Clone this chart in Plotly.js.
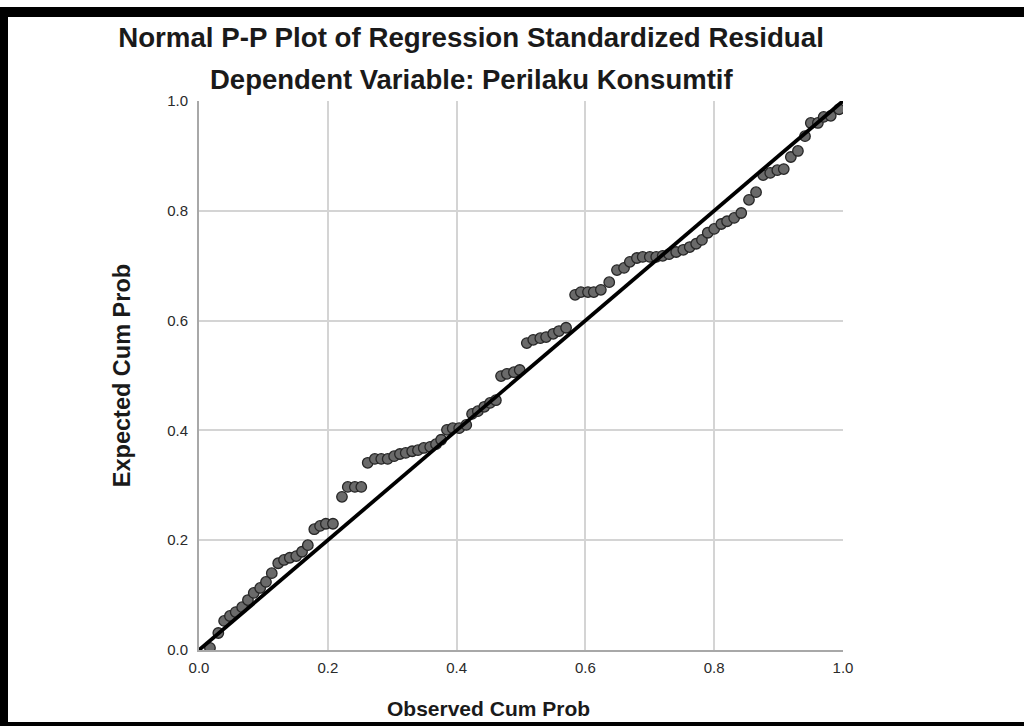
<!DOCTYPE html>
<html>
<head>
<meta charset="utf-8">
<script src="https://cdn.plot.ly/plotly-3.0.1.min.js"></script>
<style>
  html, body { margin: 0; padding: 0; background: #fff; }
  #wrap { position: relative; width: 1024px; height: 726px; overflow: hidden; }
  #chart { position: absolute; left: 0; top: 0; width: 1024px; height: 726px; }
  .bar { position: absolute; background: #000; }
</style>
</head>
<body>
<div id="wrap">
  <div id="chart"></div>
  <div class="bar" style="left:0;top:7px;width:1024px;height:10px;"></div>
  <div class="bar" style="left:0;top:7px;width:8px;height:719px;"></div>
  <div class="bar" style="left:0;top:722px;width:1024px;height:4px;"></div>
</div>
<script>
// Observed cumulative probability (x) and expected cumulative probability (y)
const observedCumProb = [
  0.017, 0.030, 0.039, 0.048, 0.057, 0.067, 0.076, 0.085, 0.095, 0.104,
  0.113, 0.123, 0.132, 0.141, 0.151, 0.160, 0.169, 0.179, 0.188, 0.197,
  0.208, 0.222, 0.231, 0.242, 0.252, 0.262, 0.273, 0.283, 0.293, 0.303,
  0.312, 0.321, 0.331, 0.340, 0.349, 0.359, 0.368, 0.376, 0.385, 0.394,
  0.404, 0.415, 0.424, 0.433, 0.443, 0.452, 0.461, 0.469, 0.478, 0.489,
  0.498, 0.509, 0.519, 0.530, 0.539, 0.550, 0.559, 0.570, 0.584, 0.593,
  0.604, 0.613, 0.624, 0.637, 0.649, 0.660, 0.669, 0.680, 0.689, 0.700,
  0.710, 0.720, 0.730, 0.741, 0.752, 0.762, 0.772, 0.781, 0.790, 0.800,
  0.811, 0.820, 0.831, 0.842, 0.854, 0.865, 0.876, 0.887, 0.898, 0.908,
  0.919, 0.930, 0.941, 0.950, 0.961, 0.970, 0.981, 0.994
];
const expectedCumProb = [
  0.004, 0.031, 0.053, 0.062, 0.069, 0.078, 0.091, 0.104, 0.113, 0.124,
  0.140, 0.158, 0.164, 0.168, 0.171, 0.179, 0.191, 0.220, 0.226, 0.230,
  0.230, 0.279, 0.297, 0.297, 0.297, 0.341, 0.348, 0.348, 0.348, 0.353,
  0.357, 0.359, 0.362, 0.364, 0.368, 0.370, 0.375, 0.383, 0.401, 0.404,
  0.404, 0.410, 0.430, 0.435, 0.443, 0.450, 0.455, 0.499, 0.503, 0.506,
  0.510, 0.559, 0.565, 0.568, 0.570, 0.576, 0.581, 0.587, 0.647, 0.652,
  0.652, 0.652, 0.656, 0.670, 0.692, 0.696, 0.707, 0.714, 0.716, 0.716,
  0.716, 0.718, 0.721, 0.725, 0.729, 0.734, 0.740, 0.747, 0.760, 0.767,
  0.776, 0.781, 0.787, 0.796, 0.820, 0.834, 0.865, 0.869, 0.874, 0.876,
  0.898, 0.909, 0.936, 0.960, 0.960, 0.971, 0.973, 0.985
];
// Reference diagonal
const refLineX = [0, 1];
const refLineY = [0, 1];
const tickVals = [0, 0.2, 0.4, 0.6, 0.8, 1.0];
const tickText = ['0.0', '0.2', '0.4', '0.6', '0.8', '1.0'];

const FONT = 'Arial, "Liberation Sans", Helvetica, sans-serif';

const traces = [
  {
    type: 'scatter', mode: 'markers',
    x: observedCumProb, y: expectedCumProb,
    marker: { size: 10.5, color: '#6a6a6a', line: { color: '#262626', width: 1.3 } },
    hoverinfo: 'x+y', showlegend: false
  },
  {
    type: 'scatter', mode: 'lines',
    x: refLineX, y: refLineY,
    line: { color: '#000000', width: 3.8 },
    hoverinfo: 'skip', showlegend: false
  }
];

const layout = {
  width: 1024, height: 726,
  margin: { l: 199, r: 181, t: 101, b: 76, pad: 0 },
  paper_bgcolor: '#ffffff', plot_bgcolor: '#ffffff',
  font: { family: FONT, color: '#1a1a1a' },
  showlegend: false,
  title: {
    text: '<b>Normal P-P Plot of Regression Standardized Residual</b>',
    font: { family: FONT, size: 27.7, color: '#1a1a1a' },
    x: 471 / 1024, xref: 'container', xanchor: 'center',
    y: 1 - 37 / 726, yref: 'container', yanchor: 'middle'
  },
  xaxis: {
    range: [0, 1], autorange: false,
    tickvals: tickVals, ticktext: tickText,
    tickfont: { family: FONT, size: 15, color: '#2a2a2a' },
    ticklabelstandoff: 3,
    ticks: '', showgrid: true, gridcolor: '#d4d4d4', gridwidth: 2,
    showline: true, linecolor: '#a8a8a8', linewidth: 2, mirror: false,
    zeroline: false, fixedrange: true
  },
  yaxis: {
    range: [0, 1], autorange: false,
    tickvals: tickVals, ticktext: tickText,
    tickfont: { family: FONT, size: 15, color: '#2a2a2a' },
    ticklabelstandoff: 6,
    ticks: '', showgrid: true, gridcolor: '#d4d4d4', gridwidth: 2,
    showline: true, linecolor: '#a8a8a8', linewidth: 2, mirror: false,
    zeroline: false, fixedrange: true,
    title: {
      text: '<b>Expected Cum Prob</b>',
      font: { family: FONT, size: 23.5, color: '#1a1a1a' },
      standoff: 30
    }
  },
  annotations: [
    {
      text: '<b>Dependent Variable: Perilaku Konsumtif</b>',
      xref: 'paper', yref: 'paper',
      x: (471.5 - 199) / 644, y: (650 - 80) / 549,
      xanchor: 'center', yanchor: 'middle', showarrow: false,
      font: { family: FONT, size: 27.5, color: '#1a1a1a' }
    },
    {
      text: '<b>Observed Cum Prob</b>',
      xref: 'paper', yref: 'paper',
      x: (488 - 199) / 644, y: (650 - 708) / 549,
      xanchor: 'center', yanchor: 'middle', showarrow: false,
      font: { family: FONT, size: 21, color: '#1a1a1a' }
    }
  ]
};

Plotly.newPlot('chart', traces, layout, { displayModeBar: false, staticPlot: true });
</script>
</body>
</html>
